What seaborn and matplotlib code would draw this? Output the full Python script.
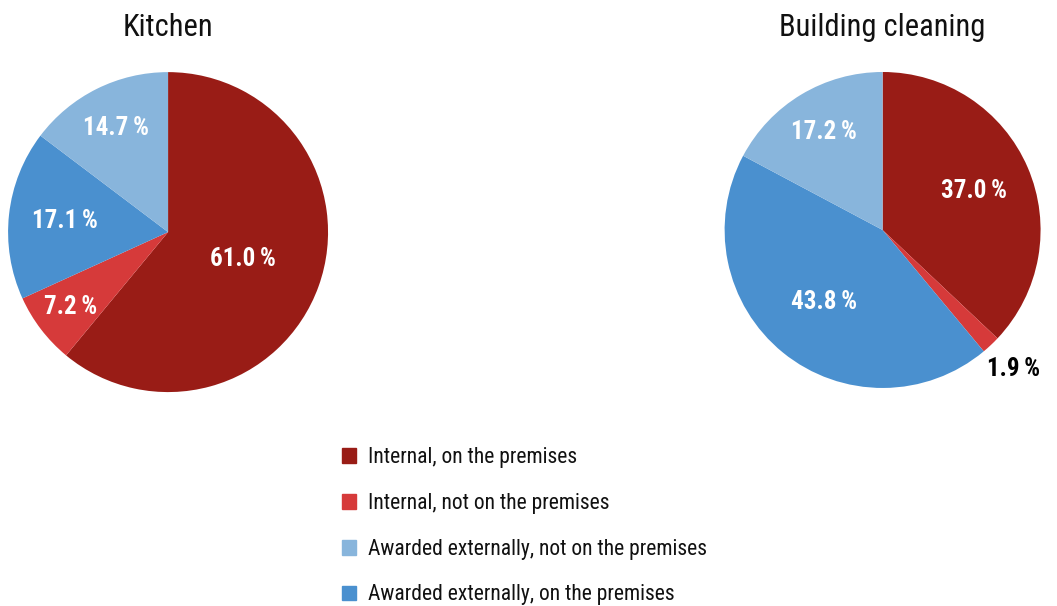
import numpy as np
import matplotlib.pyplot as plt
import matplotlib.patches as mpatches
import seaborn as sns

# shares in percent, clockwise from 12 o'clock
categories = ['Internal, on the premises', 'Internal, not on the premises',
              'Awarded externally, on the premises', 'Awarded externally, not on the premises']
kitchen = [61.0, 7.2, 17.1, 14.7]
cleaning = [37.0, 1.9, 43.8, 17.2]
legend_order = [0, 1, 3, 2]

colors = ['#991c16', '#d63a3a', '#4a90cf', '#88b5dc']

sns.set_theme(style='white')
plt.rcParams['font.family'] = ['Roboto Condensed', 'Liberation Sans', 'DejaVu Sans']

fig = plt.figure(figsize=(10.57, 6.06), dpi=100)


def draw_pie(rect, values, title, label_dist, label_colors):
    ax = fig.add_axes(rect)
    wedges, _ = ax.pie(values, colors=colors, startangle=90, counterclock=False,
                       wedgeprops=dict(linewidth=0))
    for w, v, d, c in zip(wedges, values, label_dist, label_colors):
        ang = np.deg2rad((w.theta1 + w.theta2) / 2)
        ax.text(d * np.cos(ang), d * np.sin(ang), f'{v:.1f}\u2009%', ha='center', va='center',
                color=c, fontsize=18, fontweight='bold')
    ax.set_xlim(-1, 1)
    ax.set_ylim(-1, 1)
    ax.set_aspect('equal')
    ax.axis('off')
    cx = rect[0] + rect[2] / 2
    fig.text(cx, 0.955, title, ha='center', va='center', fontsize=22, color='#111111')
    return ax


draw_pie([0.159 - 0.1514, 0.617 - 0.264, 0.3028, 0.528], kitchen, 'Kitchen',
         [0.5, 0.77, 0.65, 0.73], ['white'] * 4)
draw_pie([0.835 - 0.1495, 0.6205 - 0.2607, 0.299, 0.5214], cleaning, 'Building cleaning',
         [0.63, 1.21, 0.59, 0.72], ['white', 'black', 'white', 'white'])

handles = [mpatches.Patch(color=colors[i], label=categories[i]) for i in legend_order]
fig.legend(handles=handles, loc='upper left', bbox_to_anchor=(0.305, 0.294),
           frameon=False, fontsize=15.5, handlelength=0.68, handleheight=0.68,
           handletextpad=0.55, labelspacing=1.15, labelcolor='#111111')

fig.savefig('out.png', dpi=100, facecolor='white')
